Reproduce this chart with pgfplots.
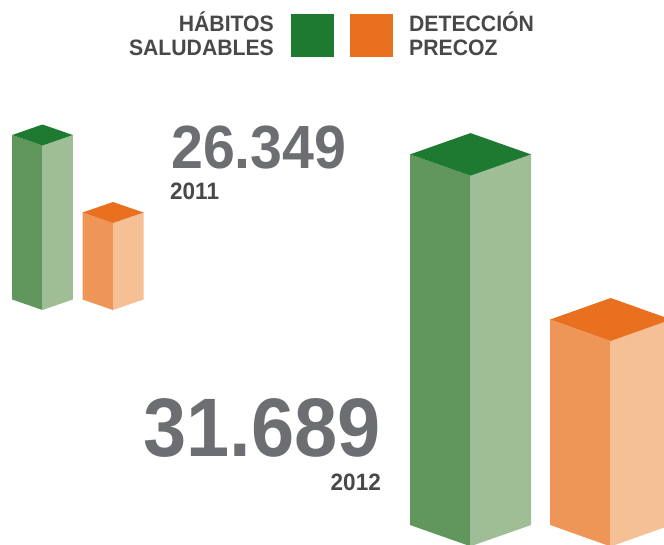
\documentclass[border=0pt]{standalone}
\usepackage{pgfplots}
\pgfplotsset{compat=1.18}
\usepackage{fontspec}
\setmainfont{Liberation Sans}
\definecolor{gtop}{HTML}{1E7A30}
\definecolor{gleft}{HTML}{61965C}
\definecolor{gright}{HTML}{9FBE96}
\definecolor{otop}{HTML}{E8701F}
\definecolor{oleft}{HTML}{EE9657}
\definecolor{oright}{HTML}{F5C095}
\definecolor{numgray}{HTML}{6D6E71}
\definecolor{labgray}{HTML}{48484A}
\begin{document}
\begin{tikzpicture}
\begin{axis}[
  scale only axis, width=664pt, height=544pt,
  xmin=0, xmax=664, ymin=0, ymax=544, y dir=reverse,
  hide axis, clip=true,
]
% ---- 2011 Habitos saludables (small green)
\addplot[fill=gleft, draw=none] coordinates {(12.2,299.5) (42.5,310) (42.5,145.5) (12.2,135)} -- cycle;
\addplot[fill=gright, draw=none] coordinates {(42.5,310) (72.8,299.5) (72.8,135) (42.5,145.5)} -- cycle;
\addplot[fill=gtop, draw=none] coordinates {(42.5,145.5) (12.2,135) (42.5,124.5) (72.8,135)} -- cycle;
% ---- 2011 Deteccion precoz (small orange)
\addplot[fill=oleft, draw=none] coordinates {(82.5,299.5) (113,310) (113,223) (82.5,212.5)} -- cycle;
\addplot[fill=oright, draw=none] coordinates {(113,310) (143.5,299.5) (143.5,212.5) (113,223)} -- cycle;
\addplot[fill=otop, draw=none] coordinates {(113,223) (82.5,212.5) (113,202) (143.5,212.5)} -- cycle;
% ---- 2012 Habitos saludables (big green)
\addplot[fill=gleft, draw=none] coordinates {(410,525) (470.5,546.3) (470.5,175.7) (410,154.4)} -- cycle;
\addplot[fill=gright, draw=none] coordinates {(470.5,546.3) (531,525) (531,154.4) (470.5,175.7)} -- cycle;
\addplot[fill=gtop, draw=none] coordinates {(470.5,175.7) (410,154.4) (470.5,133.1) (531,154.4)} -- cycle;
% ---- 2012 Deteccion precoz (big orange)
\addplot[fill=oleft, draw=none] coordinates {(550.2,525) (610.7,546.5) (610.7,341) (550.2,319.5)} -- cycle;
\addplot[fill=oright, draw=none] coordinates {(610.7,546.5) (671.2,525) (671.2,319.5) (610.7,341)} -- cycle;
\addplot[fill=otop, draw=none] coordinates {(610.7,341) (550.2,319.5) (610.7,298) (671.2,319.5)} -- cycle;
% ---- legend squares
\addplot[fill=gtop, draw=none] coordinates {(291,14) (333.7,14) (333.7,56.7) (291,56.7)} -- cycle;
\addplot[fill=otop, draw=none] coordinates {(350,14) (392.7,14) (392.7,56.7) (350,56.7)} -- cycle;
% ---- texts
\node[anchor=base east, inner sep=0pt, text=labgray, font=\fontsize{22.3}{22.3}\selectfont\bfseries, xscale=0.95] at (axis cs:274,31.7) {HÁBITOS};
\node[anchor=base east, inner sep=0pt, text=labgray, font=\fontsize{22.3}{22.3}\selectfont\bfseries, xscale=0.95] at (axis cs:274,55) {SALUDABLES};
\node[anchor=base west, inner sep=0pt, text=labgray, font=\fontsize{22.3}{22.3}\selectfont\bfseries, xscale=0.95] at (axis cs:409,31.7) {DETECCIÓN};
\node[anchor=base west, inner sep=0pt, text=labgray, font=\fontsize{22.3}{22.3}\selectfont\bfseries, xscale=0.95] at (axis cs:409,55) {PRECOZ};
\node[anchor=base west, inner sep=0pt, text=numgray, font=\fontsize{61}{61}\selectfont\bfseries, xscale=0.94] at (axis cs:171,168.3) {26.349};
\node[anchor=base west, inner sep=0pt, text=labgray, font=\fontsize{23.7}{23.7}\selectfont\bfseries, xscale=0.95] at (axis cs:170,199) {2011};
\node[anchor=base west, inner sep=0pt, text=numgray, font=\fontsize{83}{83}\selectfont\bfseries, xscale=0.935] at (axis cs:143,456) {31.689};
\node[anchor=base east, inner sep=0pt, text=labgray, font=\fontsize{23.7}{23.7}\selectfont\bfseries, xscale=0.95] at (axis cs:381,490) {2012};
\end{axis}
\pgfresetboundingbox
\path (current axis.south west) rectangle (current axis.north east);
\end{tikzpicture}
\end{document}
